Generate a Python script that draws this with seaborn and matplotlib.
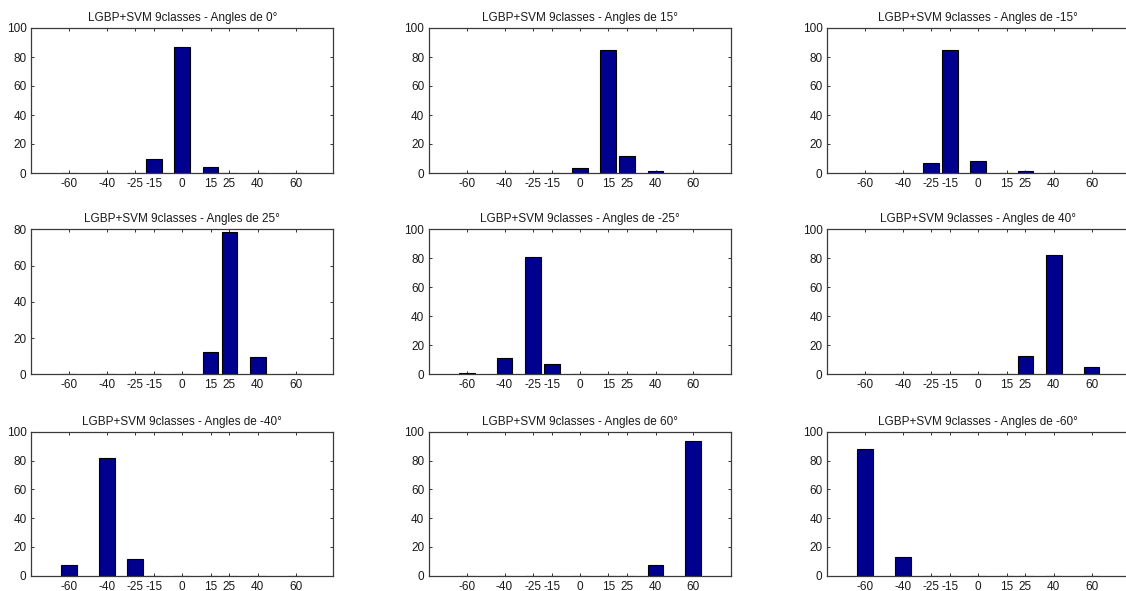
import matplotlib
matplotlib.use("Agg")
import matplotlib.pyplot as plt
import seaborn as sns
import pandas as pd

sns.set_style("white")
plt.rcParams['font.family'] = ['Liberation Sans', 'DejaVu Sans']

angles = [-60, -40, -25, -15, 0, 15, 25, 40, 60]
tick_labels = ["-60", "-40", "-25", "-15", "0", "15", "25", "40", "60"]

pct_0 = [0, 0, 0, 9.8, 86.6, 4.3, 0, 0, 0]
pct_15 = [0, 0, 0, 0, 3.6, 84.8, 11.6, 1.1, 0]
pct_m15 = [0, 0, 6.6, 84.8, 8.4, 0, 1.1, 0, 0]
pct_25 = [0, 0, 0, 0, 0, 12.5, 78.5, 9.7, 0]
pct_m25 = [1.1, 11.4, 80.6, 7.1, 0, 0, 0, 0, 0]
pct_40 = [0, 0, 0, 0, 0, 0, 12.6, 82.2, 5.2]
pct_m40 = [7.5, 81.7, 11.6, 0, 0, 0, 0, 0, 0]
pct_60 = [0, 0, 0, 0, 0, 0, 0, 7.4, 93.2]
pct_m60 = [87.8, 13.0, 0, 0, 0, 0, 0, 0, 0]

titles = ["LGBP+SVM 9classes - Angles de 0°", "LGBP+SVM 9classes - Angles de 15°",
          "LGBP+SVM 9classes - Angles de -15°", "LGBP+SVM 9classes - Angles de 25°",
          "LGBP+SVM 9classes - Angles de -25°", "LGBP+SVM 9classes - Angles de 40°",
          "LGBP+SVM 9classes - Angles de -40°", "LGBP+SVM 9classes - Angles de 60°",
          "LGBP+SVM 9classes - Angles de -60°"]
series = [pct_0, pct_15, pct_m15, pct_25, pct_m25, pct_40, pct_m40, pct_60, pct_m60]
ymax = [100, 100, 100, 80, 100, 100, 100, 100, 100]

W, H = 1126, 591
fig = plt.figure(figsize=(W / 100, H / 100), dpi=100)
fig.patch.set_facecolor("white")

col_left = [31.3, 429.0, 827.3]
ax_w = 302.0
row_top = [28.0, 229.3, 431.7]
ax_h = [145.0, 145.0, 144.0]

bar_color = "#00008F"
for i, (vals, title, ym) in enumerate(zip(series, titles, ymax)):
    r, c = divmod(i, 3)
    left = col_left[c]
    top = row_top[r]
    h = ax_h[r]
    ax = fig.add_axes([left / W, (H - top - h) / H, ax_w / W, h / H])
    df = pd.DataFrame({"angle": angles, "pct": vals})
    sns.barplot(data=df, x="angle", y="pct", native_scale=True, width=0.83,
                color=bar_color, saturation=1, edgecolor="black", linewidth=0.8,
                ax=ax, errorbar=None)
    ax.set_xlim(-80, 80)
    ax.set_ylim(0, ym)
    ax.set_xticks(angles)
    ax.set_xticklabels(tick_labels)
    ax.set_yticks(list(range(0, ym + 1, 20)))
    ax.set_xlabel("")
    ax.set_ylabel("")
    ax.tick_params(direction="in", length=2.5, width=0.7, top=True, right=True,
                   bottom=True, left=True, labelsize=8.5, colors="#333333",
                   labelcolor="#1a1a1a", pad=3.5)
    for s in ax.spines.values():
        s.set_visible(True)
        s.set_color("#3a3a3a")
        s.set_linewidth(0.9)
    ax.set_title(title, fontsize=8.5, color="#1a1a1a", pad=5)

fig.savefig("out.png", dpi=100, facecolor="white")
